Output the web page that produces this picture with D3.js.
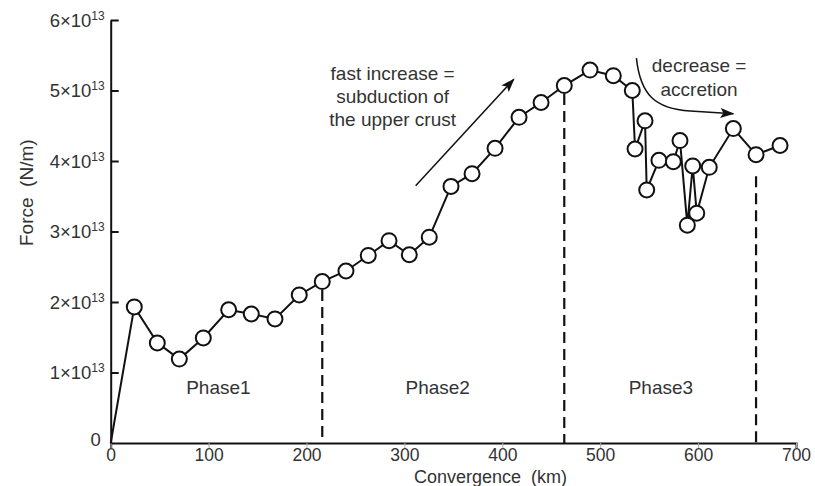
<!DOCTYPE html>
<html>
<head>
<meta charset="utf-8">
<script src="https://cdn.jsdelivr.net/npm/d3@7"></script>
<style>
  html, body { margin: 0; padding: 0; background: #fff; }
  svg { display: block; font-family: "Liberation Sans", Arial, sans-serif; }
  .lbl { fill: #333; font-size: 18.5px; }
  .title { fill: #333; font-size: 19px; }
</style>
</head>
<body>
<svg id="chart" width="815" height="486"></svg>
<script>
// Force vs convergence, three phases.
const convergenceKm = [0, 24.1, 47.6, 70.1, 94.6, 120.5, 143.6, 167.8, 192.6, 216.1,
  240.3, 263.1, 284.3, 305.0, 325.4, 347.6, 369.1, 392.6, 417.1, 439.6,
  463.3, 489.6, 513.4, 532.8, 535.6, 545.8, 547.5, 560.0, 574.7, 581.5,
  589.0, 594.5, 598.6, 611.4, 636.0, 659.2, 683.7];
// force in units of 1e13 N/m
const forceE13 = [0, 1.93, 1.42, 1.19, 1.49, 1.89, 1.83, 1.76, 2.10, 2.29,
  2.44, 2.66, 2.87, 2.67, 2.92, 3.64, 3.82, 4.18, 4.62, 4.83,
  5.07, 5.29, 5.21, 5.00, 4.17, 4.57, 3.59, 4.01, 3.99, 4.29,
  3.09, 3.93, 3.26, 3.91, 4.46, 4.09, 4.22];

const xTicks = [0, 100, 200, 300, 400, 500, 600, 700];
const yTicks = [0, 1, 2, 3, 4, 5, 6];
const phaseBoundsKm = [216.1, 463.3, 659.2];
const phaseNames = ["Phase1", "Phase2", "Phase3"];
const phaseLabelKm = [110, 334, 562];

const svg = d3.select("#chart");
const x = d3.scaleLinear().domain([0, 700]).range([110.7, 796]);
const y = d3.scaleLinear().domain([0, 6]).range([443, 20]);
const R = 7.5;

// ---- arrow marker ----
const defs = svg.append("defs");
defs.append("marker")
  .attr("id", "head").attr("viewBox", "0 0 14 10")
  .attr("refX", 13).attr("refY", 5)
  .attr("markerWidth", 15).attr("markerHeight", 10)
  .attr("markerUnits", "userSpaceOnUse").attr("orient", "auto")
  .append("path").attr("d", "M0,0 L14,5 L0,10 L3,5 z").attr("fill", "#111");

// ---- axes ----
const xAxis = svg.append("g")
  .attr("transform", `translate(0,${y(0)})`)
  .call(d3.axisBottom(x).tickValues(xTicks).tickSize(5).tickPadding(1).tickFormat(d3.format("d")));
xAxis.select(".domain").attr("stroke", "#111").attr("stroke-width", 2);
xAxis.selectAll(".tick line").attr("stroke", "#aaa");
xAxis.selectAll(".tick text").attr("class", "lbl").attr("font-size", null)
  .attr("font-family", null).style("font-size", "17.5px");

const yAxis = svg.append("g")
  .attr("transform", `translate(${x(0)},0)`)
  .call(d3.axisLeft(y).tickValues(yTicks.slice(1)).tickSizeInner(-8).tickSizeOuter(0).tickFormat(""));
yAxis.select(".domain").attr("stroke", "#111").attr("stroke-width", 2);
yAxis.selectAll(".tick line").attr("stroke", "#111").attr("stroke-width", 2);

const yLab = svg.append("g").selectAll("text")
  .data(yTicks).join("text")
  .attr("class", "lbl")
  .attr("text-anchor", "end")
  .attr("x", (d) => x(0) - (d === 0 ? 10 : 6))
  .attr("y", (d) => y(d) + (d === 0 ? 3 : 6.5));
yLab.each(function (d) {
  const t = d3.select(this);
  if (d === 0) { t.text("0"); return; }
  t.append("tspan").text(`${d}×10`);
  t.append("tspan").attr("font-size", 12).attr("dy", -7).text("13");
});

// axis titles (double gap before the unit, as in the source figure)
svg.append("text").attr("class", "title")
  .attr("text-anchor", "middle")
  .attr("transform", `translate(33,${y(3.55)}) rotate(-90)`)
  .text("Force\u00A0 (N/m)");
svg.append("text").attr("class", "title")
  .attr("text-anchor", "middle")
  .style("font-size", "18px")
  .attr("x", x(388)).attr("y", 482.5)
  .text("Convergence\u00A0 (km)");

// ---- phase boundaries ----
const pts = convergenceKm.map((c, i) => ({ c, f: forceE13[i] }));
const topGap = [R + 1, R + 1, R + 14];
svg.append("g").selectAll("line")
  .data(phaseBoundsKm).join("line")
  .attr("x1", (d) => x(d)).attr("x2", (d) => x(d))
  .attr("y1", (d, i) => y(pts.find((p) => p.c === d).f) + topGap[i])
  .attr("y2", y(0))
  .attr("stroke", "#111").attr("stroke-width", 2.2)
  .attr("stroke-dasharray", "11,6");

svg.append("g").selectAll("text")
  .data(phaseNames).join("text")
  .attr("class", "title").attr("text-anchor", "middle")
  .attr("x", (d, i) => x(phaseLabelKm[i]))
  .attr("y", y(0.7))
  .text((d) => d);

// ---- data line + circles ----
const line = d3.line().x((d) => x(d.c)).y((d) => y(d.f));
svg.append("path").datum(pts)
  .attr("d", line).attr("fill", "none")
  .attr("stroke", "#111").attr("stroke-width", 2);

svg.append("g").selectAll("circle")
  .data(pts.slice(1)).join("circle")
  .attr("cx", (d) => x(d.c)).attr("cy", (d) => y(d.f)).attr("r", R)
  .attr("fill", "#fff").attr("stroke", "#111").attr("stroke-width", 2);

// ---- annotations ----
svg.append("line")
  .attr("x1", x(311.5)).attr("y1", y(3.65))
  .attr("x2", x(411.8)).attr("y2", y(5.16))
  .attr("stroke", "#111").attr("stroke-width", 1.5)
  .attr("marker-end", "url(#head)");

const incText = ["fast increase =", "subduction of", "the upper crust"];
svg.append("g").selectAll("text")
  .data(incText).join("text")
  .attr("class", "title").attr("text-anchor", "middle")
  .attr("x", x(288))
  .attr("y", (d, i) => y(5.245) + 6.5 + i * 23)
  .text((d) => d);

const curve = d3.path();
curve.moveTo(x(537), y(5.46));
curve.bezierCurveTo(x(541), y(4.94), x(556), y(4.74), x(592), y(4.71));
curve.lineTo(x(636), y(4.67));
svg.append("path").attr("d", curve.toString())
  .attr("fill", "none").attr("stroke", "#111").attr("stroke-width", 1.5)
  .attr("marker-end", "url(#head)");

const decText = ["decrease =", "accretion"];
svg.append("g").selectAll("text")
  .data(decText).join("text")
  .attr("class", "title").attr("text-anchor", "middle")
  .attr("x", x(601))
  .attr("y", (d, i) => y(5.352) + 6.5 + i * 23.5)
  .text((d) => d);
</script>
</body>
</html>
